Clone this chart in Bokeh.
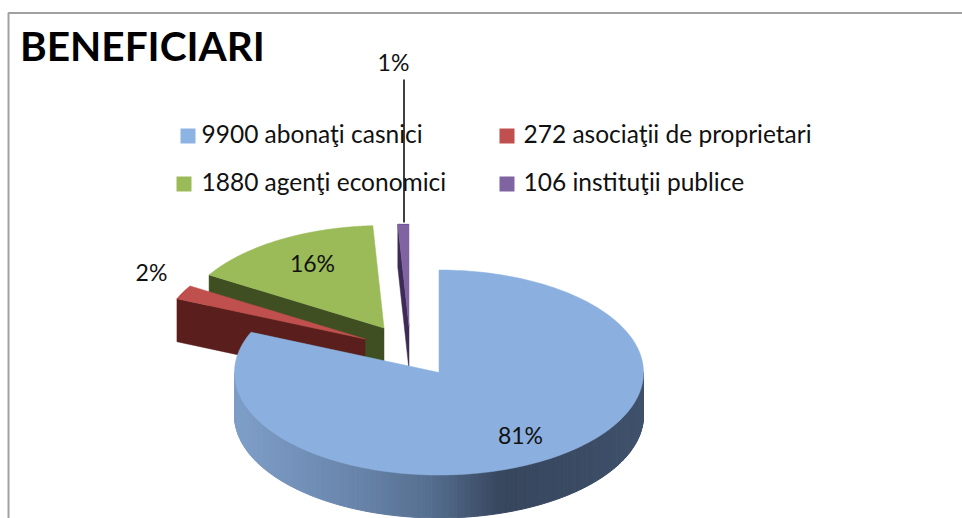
import numpy as np
from bokeh.plotting import figure
from bokeh.core.properties import value
from bokeh.embed import file_html
from bokeh.resources import INLINE

# ---- data
categories = ["9900 abonaţi casnici", "272 asociaţii de proprietari", "1880 agenţi economici", "106 instituţii publice"]
counts = [9900, 272, 1880, 106]
percent_labels = ["81%", "2%", "16%", "1%"]
title_text = "BENEFICIARI"

# ---- style and layout
top_colors = ["#8BB0DF", "#C0504D", "#9BBB59", "#8064A2"]
wall_colors = ["#5F7A9E", "#5A1F1D", "#3F4F21", "#3D2B56"]
legend_colors = ["#8DB3E2", "#C0504D", "#9BBB59", "#8064A2"]
FONT = "Lato"
W, H = 962, 518
CX, CY, RX, RY, DEPTH = 438.5, 372.0, 204.5, 102.5, 43.0
explode = [(0, 0), (-74, -33.5), (-55, -44.5), (-30, -46)]
label_xy = [(520, 434), (151, 271), (312, 262), (393, 61)]
legend_xy = [(180, 128), (499, 128), (176, 176), (499, 176)]
legend_text_x = [201, 523, 201, 523]
SWATCH = 15

p = figure(width=W, height=H, x_range=(0, W), y_range=(H, 0),
           output_backend="svg", toolbar_location=None, min_border=0,
           x_axis_type="linear", y_axis_type="linear")
p.styles = {"position": "absolute", "left": "0", "top": "0"}
p.axis.visible = False
p.grid.visible = False
p.outline_line_color = None
p.background_fill_color = "white"
p.border_fill_color = "white"


def rim(ax, ay, a):
    return ax + RX * np.sin(a), ay - RY * np.cos(a)


fractions = np.array(counts, dtype=float) / sum(counts)
edges = np.concatenate([[0], np.cumsum(fractions)]) * 2 * np.pi
apex = [(CX + dx, CY + dy) for dx, dy in explode]


def top_surface(i):
    a = np.linspace(edges[i], edges[i + 1], 240)
    x, y = rim(*apex[i], a)
    return [apex[i][0], *x], [apex[i][1], *y]


def cut_face(i):
    ax, ay = apex[i]
    x, y = rim(ax, ay, edges[i])
    return [x, ax, ax, x], [y, ay, ay + DEPTH, y + DEPTH]


# border
p.line([8, 8, W], [H, 12.5, 12.5], line_color="#A0A0A0", line_width=2)

# exploded back slices, back to front
for i in (2, 1, 3):
    xs, ys = cut_face(i)
    p.patch(xs, ys, fill_color=wall_colors[i], line_color=wall_colors[i], line_width=0.5)
    xs, ys = top_surface(i)
    p.patch(xs, ys, fill_color=top_colors[i], line_color=top_colors[i], line_width=0.5)

# leader line for the small slice
p.line([403.5, 403.5], [79, 222], line_color="black", line_width=1.5)

# blue wall: a shaded strip along the front of the rim
stops_x = [234, 350, 430, 500, 560, 643]
stops_rgb = np.array([[127, 159, 201], [106, 134, 172], [86, 111, 144],
                      [56, 71, 94], [58, 74, 98], [64, 82, 108]], dtype=float)
angles = np.linspace(np.pi / 2, 3 * np.pi / 2, 181)
qx, qy, qc = [], [], []
for a0, a1 in zip(angles[:-1], angles[1:]):
    x0, y0 = rim(*apex[0], a0)
    x1, y1 = rim(*apex[0], a1)
    qx.append([x0, x1, x1, x0])
    qy.append([y0, y1, y1 + DEPTH, y0 + DEPTH])
    mx = (x0 + x1) / 2
    rgb = [np.interp(mx, stops_x, stops_rgb[:, k]) for k in range(3)]
    qc.append("#%02x%02x%02x" % tuple(int(v) for v in rgb))
p.patches(qx, qy, fill_color=qc, line_color=qc, line_width=1)

# blue top
xs, ys = top_surface(0)
p.patch(xs, ys, fill_color=top_colors[0], line_color=top_colors[0], line_width=0.5)

# legend
for (lx, ly), tx, name, col in zip(legend_xy, legend_text_x, categories, legend_colors):
    p.quad(left=[lx], right=[lx + SWATCH], top=[ly], bottom=[ly + SWATCH], fill_color=col, line_color=None)
    p.text([tx], [ly + SWATCH / 2 - 3], text=[name], text_font=value(FONT), text_font_size="24.5px",
           text_color="#111111", text_align="left", text_baseline="middle")

# labels
for (lx, ly), t in zip(label_xy, percent_labels):
    p.text([lx], [ly], text=[t], text_font=value(FONT), text_font_size="23px",
           text_color="#111111", text_align="center", text_baseline="middle")

p.text([19.5], [45], text=[title_text], text_font=value(FONT), text_font_style="bold", text_font_size="40.6px",
       text_color="black", text_align="left", text_baseline="middle")

open("out.html", "w").write(file_html(p, INLINE))
